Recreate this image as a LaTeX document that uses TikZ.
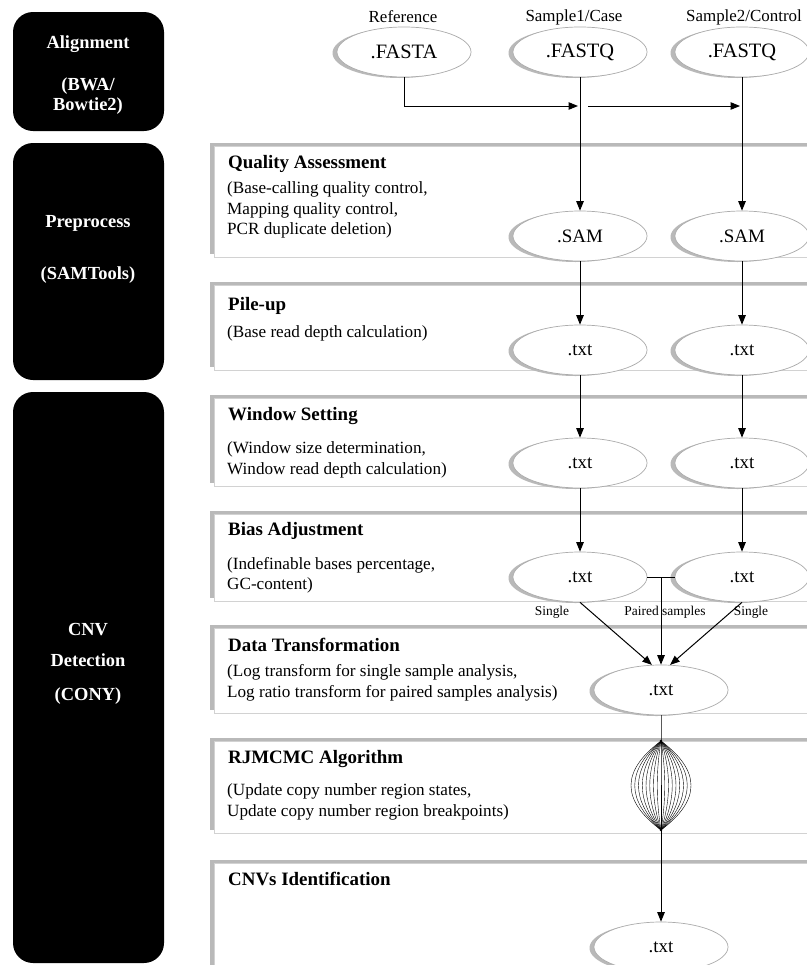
\documentclass[tikz,border=0pt]{standalone}
\usepackage{fontspec}
\setmainfont{Liberation Serif}
\usetikzlibrary{shapes.geometric,shadows,arrows.meta}

\begin{document}
\begin{tikzpicture}[x=1bp,y=-1bp,
  stagebox/.style={fill=black,rounded corners=20bp},
  stagetext/.style={text=white,align=center,font=\fontsize{18.5}{20}\selectfont\bfseries},
  panelshadow/.style={fill=gray!55},
  panel/.style={fill=white,draw=gray!35,line width=0.6bp},
  paneltitle/.style={anchor=west,inner sep=0pt,font=\fontsize{19}{21}\selectfont\bfseries},
  paneldesc/.style={anchor=west,inner sep=0pt,align=left,font=\fontsize{17.2}{20.5}\selectfont},
  file/.style={ellipse,draw=gray!65,line width=0.7bp,fill=white,minimum width=134bp,
    minimum height=50bp,inner sep=0pt,font=\fontsize{19}{22}\selectfont,
    drop shadow={shadow xshift=-4.5bp,shadow yshift=-1bp,fill=gray!55,opacity=1}},
  head/.style={font=\fontsize{17}{20}\selectfont},
  tag/.style={font=\fontsize{13.5}{16}\selectfont},
  flow/.style={-{Triangle[length=9.5bp,width=7.5bp]},line width=1bp}]

\useasboundingbox (0,0) rectangle (807,965);
\fill[white] (0,0) rectangle (807,965);
\clip (0,0) rectangle (807,965);

%%%%%% left column

%alignment
\fill[stagebox] (13,12) rectangle (164,131);
\node[stagetext] (align-txt) at (88,44) {Alignment};
\node[stagetext] (align-tool) at (88,96) {(BWA/\\Bowtie2)};

%preprocess
\fill[stagebox] (13,143) rectangle (164,380);
\node[stagetext] (prep-txt) at (88,223) {Preprocess};
\node[stagetext] (prep-tool) at (88,275) {(SAMTools)};

%cnv detection
\fill[stagebox] (13,392) rectangle (164,963);
\node[stagetext,font=\fontsize{18.5}{32}\selectfont\bfseries] (cnv-txt) at (88,645) {CNV\\Detection};
\node[stagetext] (cnv-tool) at (88,696) {(CONY)};

%%%%%% panels

%quality assessment
\fill[panelshadow] (210,143) rectangle (830,254);
\draw[panel] (214,146) rectangle (830,257);
\node[paneltitle] (qa-title) at (228,164) {Quality Assessment};
\node[paneldesc] (qa-desc) at (227,210) {(Base-calling quality control,\\Mapping quality control,\\PCR duplicate deletion)};

%pile-up
\fill[panelshadow] (210,282) rectangle (830,367);
\draw[panel] (214,285) rectangle (830,370);
\node[paneltitle] (pile-title) at (228,306) {Pile-up};
\node[paneldesc] (pile-desc) at (227,333) {(Base read depth calculation)};

%window setting
\fill[panelshadow] (210,395) rectangle (830,483);
\draw[panel] (214,398) rectangle (830,486);
\node[paneltitle] (win-title) at (228,416) {Window Setting};
\node[paneldesc] (win-desc) at (227,460) {(Window size determination,\\Window read depth calculation)};

%bias adjustment
\fill[panelshadow] (210,511) rectangle (830,598);
\draw[panel] (214,514) rectangle (830,601);
\node[paneltitle] (bias-title) at (228,531) {Bias Adjustment};
\node[paneldesc] (bias-desc) at (227,575) {(Indefinable bases percentage,\\GC-content)};

%data transformation
\fill[panelshadow] (210,625) rectangle (830,710);
\draw[panel] (214,628) rectangle (830,713);
\node[paneltitle] (data-title) at (228,645) {Data Transformation};
\node[paneldesc] (data-desc) at (227,683) {(Log transform for single sample analysis,\\Log ratio transform for paired samples analysis)};

%rjmcmc
\fill[panelshadow] (210,738) rectangle (830,830);
\draw[panel] (214,741) rectangle (830,833);
\node[paneltitle] (rj-title) at (228,759) {RJMCMC Algorithm};
\node[paneldesc] (rj-desc) at (227,802) {(Update copy number region states,\\Update copy number region breakpoints)};

%cnvs identification
\fill[panelshadow] (210,860) rectangle (830,990);
\draw[panel] (214,863) rectangle (830,993);
\node[paneltitle] (cnvs-title) at (228,879) {CNVs Identification};

%%%%%% files

%inputs
\node[head] (ref-lbl) at (403,17) {Reference};
\node[head] (case-lbl) at (574,17) {Sample1/Case};
\node[head] (ctrl-lbl) at (744,17) {Sample2/Control};
\node[file,font=\fontsize{20.5}{22}\selectfont] (fasta) at (404,52) {.FASTA};
\node[file,font=\fontsize{20.5}{22}\selectfont] (fastq1) at (580,52) {.FASTQ};
\node[file,font=\fontsize{20.5}{22}\selectfont] (fastq2) at (742,52) {.FASTQ};

%per sample
\node[file] (sam1) at (580,236) {.SAM};
\node[file] (sam2) at (742,236) {.SAM};
\node[file] (pile1) at (580,350) {.txt};
\node[file] (pile2) at (742,350) {.txt};
\node[file] (win1) at (580,463) {.txt};
\node[file] (win2) at (742,463) {.txt};
\node[file] (bias1) at (580,577) {.txt};
\node[file] (bias2) at (742,577) {.txt};

%merged
\node[file] (merged) at (661,690) {.txt};
\node[file] (final) at (661,947) {.txt};

%labels
\node[tag] (single1) at (552,612) {Single};
\node[tag] (paired) at (665,612) {Paired samples};
\node[tag] (single2) at (751,612) {Single};

%%%%%% connectors

\coordinate (hit1) at (578,106);
\coordinate (start2) at (588,106);
\coordinate (hit2) at (740,106);
\draw[flow] (fasta.south) |- (hit1);
\draw[flow] (start2) -- (hit2);

\draw[flow] (fastq1) -- (sam1);
\draw[flow] (fastq2) -- (sam2);
\draw[flow] (sam1) -- (pile1);
\draw[flow] (sam2) -- (pile2);
\draw[flow] (pile1) -- (win1);
\draw[flow] (pile2) -- (win2);
\draw[flow] (win1) -- (bias1);
\draw[flow] (win2) -- (bias2);

%single and paired
\coordinate (pair) at (661,577);
\draw[line width=1bp] (bias1.east) -- (bias2.west);
\draw[flow] (pair) -- (merged);
\draw[flow] (bias1.south) -- (merged.110);
\draw[flow] (bias2.south) -- (merged.70);

%rjmcmc lens
\coordinate (lens-top) at (661,741);
\coordinate (lens-bot) at (661,830);
\draw[line width=1bp] (merged.south) -- (lens-top) -- (lens-bot);
\foreach \w in {5,10,...,40} {
  \draw[line width=0.4bp] (lens-top) .. controls (661-\w,771) and (661-\w,800) .. (lens-bot);
  \draw[line width=0.4bp] (lens-top) .. controls (661+\w,771) and (661+\w,800) .. (lens-bot);
}
\fill (lens-top) circle (1.3bp);
\fill (lens-bot) circle (1.3bp);
\draw[flow] (lens-bot) -- (final);

\end{tikzpicture}
\end{document}
